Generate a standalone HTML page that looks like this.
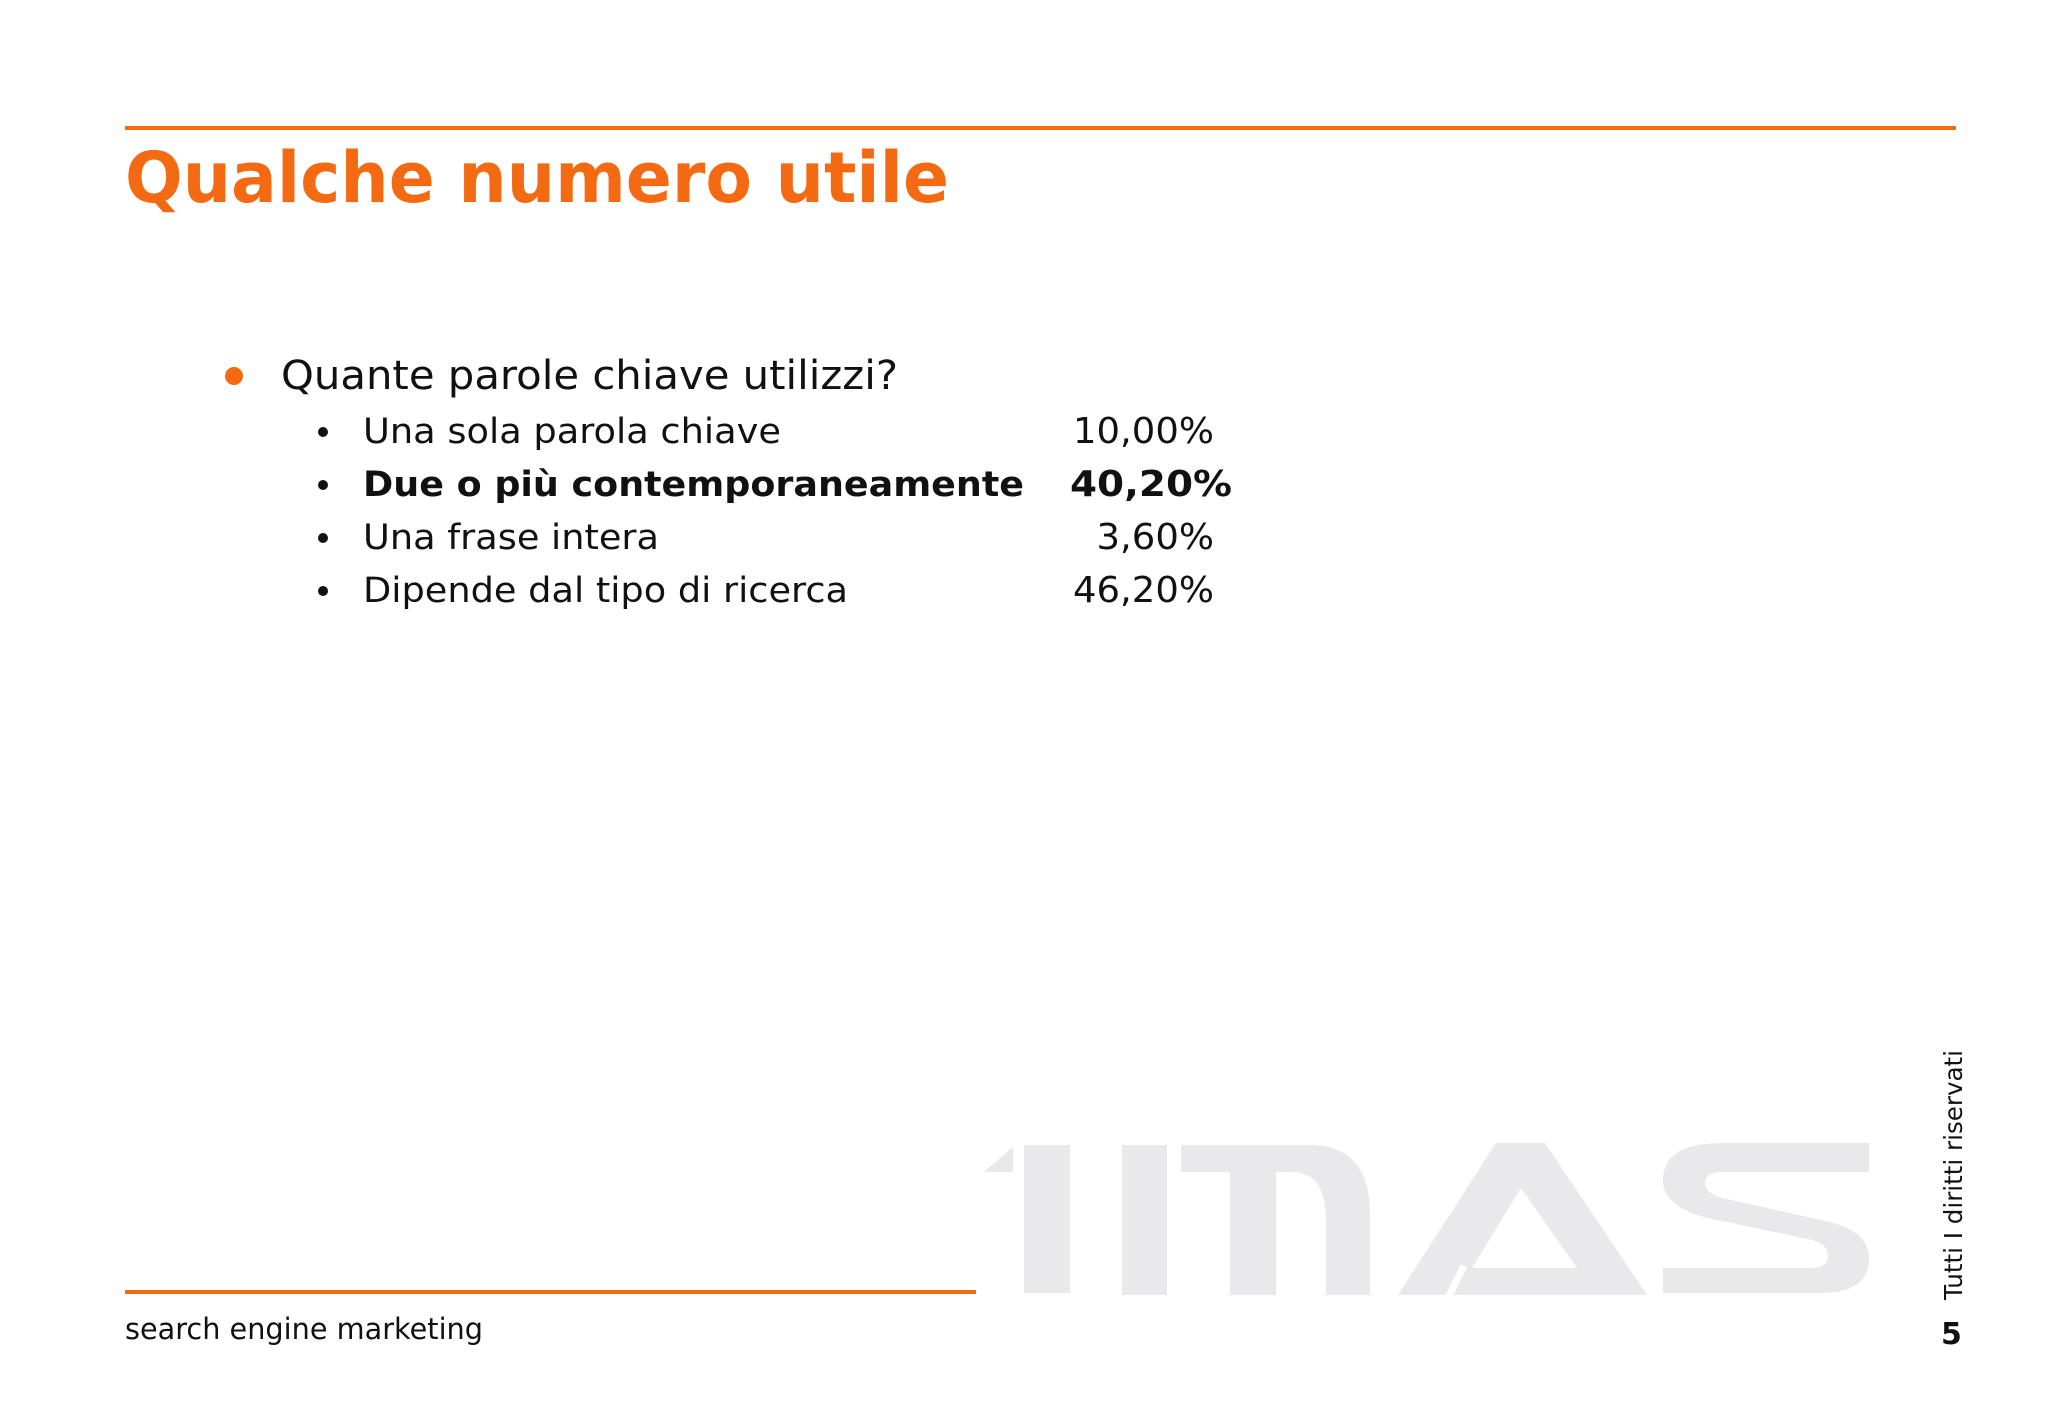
<!DOCTYPE html>
<html>
<head>
<meta charset="utf-8">
<style>
  html,body{margin:0;padding:0;background:#ffffff;}
  svg{display:block;}
</style>
</head>
<body>
<svg id="slide" width="2048" height="1418" viewBox="0 0 2048 1418" xmlns="http://www.w3.org/2000/svg">
  <rect x="0" y="0" width="2048" height="1418" fill="#ffffff"/>
  <rect x="125" y="126" width="1831" height="4" fill="#f46a12"/>
  <text x="125" y="202" font-family="'DejaVu Sans', 'Liberation Sans', sans-serif" font-weight="bold" font-size="70" fill="#f46a12" textLength="824" lengthAdjust="spacingAndGlyphs">Qualche numero utile</text>

  <g fill="#e9e8ea">
    <polygon points="984,1172 1013,1147 1013,1172"/>
    <rect x="1024" y="1145" width="46" height="148"/>
    <rect x="1122" y="1145" width="45" height="150"/>
    <path d="M1181,1145 L1310,1145 Q1370,1145 1370,1215 L1370,1295 L1326,1295 L1326,1220 Q1326,1172 1292,1172 L1276,1172 L1276,1295 L1230,1295 L1230,1172 L1181,1172 Z"/>
    <path fill-rule="evenodd" d="M1398,1295 L1496,1143 L1545,1143 L1647,1295 Z M1521,1188 L1472,1268 L1577,1268 Z"/>
    <path d="M1869,1143 L1869,1172 L1722,1172 Q1705,1172 1705,1183 Q1705,1193 1722,1198 L1830,1222 Q1869,1232 1869,1258 Q1869,1293 1820,1293 L1663,1293 L1663,1268 L1812,1268 Q1828,1268 1828,1256 Q1828,1244 1812,1240 L1708,1218 Q1663,1207 1663,1180 Q1663,1143 1722,1143 Z"/>
  </g>
  <line x1="1448" y1="1298" x2="1464" y2="1266" stroke="#ffffff" stroke-width="7"/>

  <circle cx="234" cy="376" r="9" fill="#f46a12"/>
  <text x="281" y="389" font-family="'DejaVu Sans', 'Liberation Sans', sans-serif" font-size="40" fill="#111" textLength="617" lengthAdjust="spacingAndGlyphs">Quante parole chiave utilizzi?</text>

  <g id="rows"></g>

  <rect x="125" y="1290" width="851" height="4" fill="#f46a12"/>
  <text x="125" y="1339" font-family="'DejaVu Sans', 'Liberation Sans', sans-serif" font-size="29" fill="#111" textLength="358" lengthAdjust="spacingAndGlyphs">search engine marketing</text>
  <text transform="translate(1962,1300) rotate(-90)" x="0" y="0" font-family="'DejaVu Sans', 'Liberation Sans', sans-serif" font-size="25" fill="#111" textLength="250" lengthAdjust="spacingAndGlyphs">Tutti I diritti riservati</text>
  <text x="1941" y="1344" font-family="'DejaVu Sans', 'Liberation Sans', sans-serif" font-weight="bold" font-size="30" fill="#111">5</text>
</svg>
<script>
const categories = ["Una sola parola chiave", "Due o più contemporaneamente", "Una frase intera", "Dipende dal tipo di ricerca"];
const values = [10.00, 40.20, 3.60, 46.20];
const boldFlags = [false, true, false, false];

const NS = "http://www.w3.org/2000/svg";
const g = document.getElementById("rows");
const labelWidths = [418, 661, 296, 485];
function rowY(i){ return 443 + i * 53; }
function fmt(v){ return v.toFixed(2).replace(".", ",") + "%"; }
categories.forEach(function(c, i){
  const y = rowY(i);
  const b = document.createElementNS(NS, "circle");
  b.setAttribute("cx", 323); b.setAttribute("cy", y - 11); b.setAttribute("r", 5); b.setAttribute("fill", "#111");
  
  
  g.appendChild(b);
  const t = document.createElementNS(NS, "text");
  t.setAttribute("x", 363); t.setAttribute("y", y);
  t.setAttribute("font-family", "'DejaVu Sans', 'Liberation Sans', sans-serif");
  t.setAttribute("font-size", "35");
  t.setAttribute("fill", "#111");
  t.setAttribute("textLength", labelWidths[i]);
  t.setAttribute("lengthAdjust", "spacingAndGlyphs");
  if (boldFlags[i]) t.setAttribute("font-weight", "bold");
  t.textContent = c;
  
  
  g.appendChild(t);
  const v = document.createElementNS(NS, "text");
  const s = fmt(values[i]);
  const right = boldFlags[i] ? 1232 : 1214;
  const perChar = boldFlags[i] ? 27 : 23.5;
  const w = s.length * perChar;
  v.setAttribute("x", right - w); v.setAttribute("y", y);
  v.setAttribute("textLength", w);
  v.setAttribute("lengthAdjust", "spacingAndGlyphs");
  v.setAttribute("font-family", "'DejaVu Sans', 'Liberation Sans', sans-serif");
  v.setAttribute("font-size", "36");
  v.setAttribute("fill", "#111");
  if (boldFlags[i]) v.setAttribute("font-weight", "bold");
  v.textContent = s;
  
  
  g.appendChild(v);
});
</script>
</body>
</html>
